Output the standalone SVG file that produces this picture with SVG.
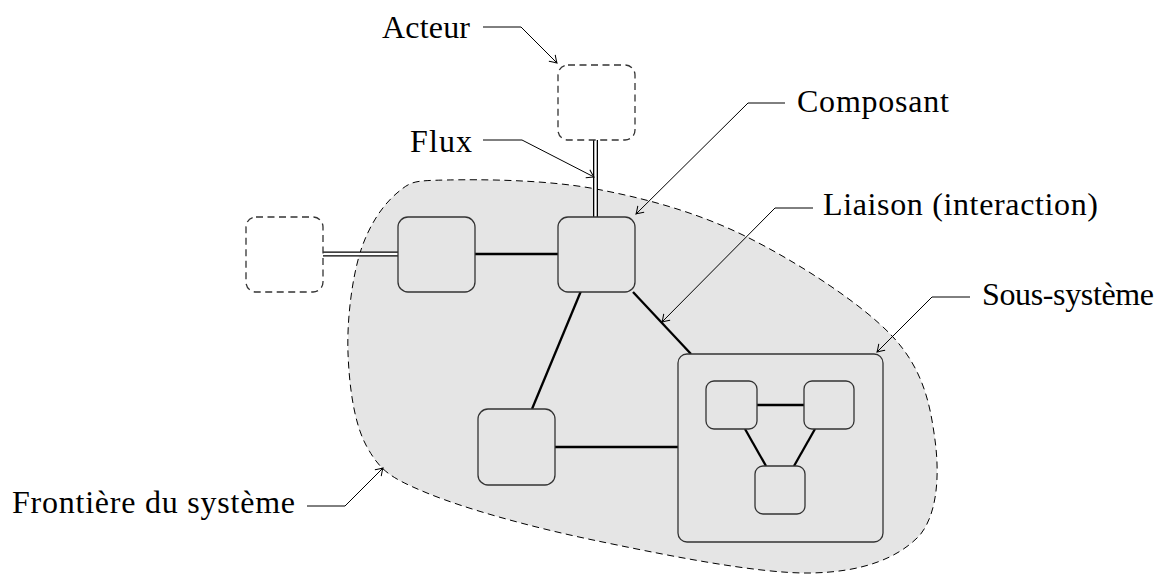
<svg xmlns="http://www.w3.org/2000/svg" width="1168" height="574" viewBox="0 0 1168 574">
<style>
.lbl{font-family:'Liberation Serif','Times New Roman',serif;font-size:32px;fill:#000}
.box{fill:#e5e5e5;stroke:#333;stroke-width:1.3}
.actor{fill:#fff;stroke:#333;stroke-width:1.3;stroke-dasharray:7 4.5}
.link{stroke:#000;stroke-width:2.3;fill:none}
.dbl-out{stroke:#000;stroke-width:5;fill:none}
.dbl-in{stroke:#fff;stroke-width:2.4;fill:none}
.ann{stroke:#000;stroke-width:1;fill:none;marker-end:url(#to)}
</style>
<defs>
<marker id="to" viewBox="-10 -6 12 12" markerWidth="12" markerHeight="12" refX="0" refY="0" orient="auto" markerUnits="userSpaceOnUse">
<path d="M-7,-4.5 Q-2,-1 0,0 Q-2,1 -7,4.5" fill="none" stroke="#000" stroke-width="1"/>
</marker>
</defs>
<rect width="1168" height="574" fill="#fff"/>
<g id="frontiere">
<path d="M447,180 C480.2,179.3 546,179.5 596,189 C646,198.5 697.5,212.3 747,237 C796.5,261.7 861.7,303.2 893,337 C924.3,370.8 930.5,407 935,440 C939.5,473 938,512.8 920,535 C899.2,557.2 864.5,572.2 810,573 C755.5,573.8 656.8,553.3 593,540 C529.2,526.7 464.7,508.5 427,493 C389.3,477.5 380.2,470.3 367,447 C353.8,423.7 349.2,385.3 348,353 C346.8,320.7 351.8,279.7 360,253 C368.2,226.3 382.5,205.2 397,193 C411.5,180.8 413.8,180.7 447,180 Z" fill="#e5e5e5" stroke="#000" stroke-width="1" stroke-dasharray="7 4.5"/>
</g>
<g id="connectors">
<line class="link" x1="475" y1="254" x2="558" y2="254"/>
<line class="link" x1="581" y1="291" x2="532" y2="409"/>
<line class="link" x1="633" y1="292" x2="691" y2="354"/>
<line class="link" x1="555" y1="447" x2="678" y2="447"/>
<path class="dbl-out" d="M595.5,140 V217"/>
<path class="dbl-in" d="M595.5,140 V217"/>
<path class="dbl-out" d="M323,254 H398"/>
<path class="dbl-in" d="M323,254 H398"/>
</g>
<g id="acteur-haut"><rect class="actor" x="558" y="65" width="77" height="75" rx="10"/></g>
<g id="acteur-gauche"><rect class="actor" x="246" y="217" width="77" height="75" rx="10"/></g>
<g id="composant-1"><rect class="box" x="398" y="217" width="77" height="75" rx="10"/></g>
<g id="composant-2"><rect class="box" x="558" y="217" width="77" height="75" rx="10"/></g>
<g id="composant-3"><rect class="box" x="478" y="409" width="77" height="76" rx="10"/></g>
<g id="sous-systeme">
<rect class="box" x="678" y="354" width="205" height="188" rx="9"/>
<line class="link" x1="757" y1="405" x2="804" y2="405"/>
<line class="link" x1="745" y1="429" x2="766" y2="466"/>
<line class="link" x1="815" y1="429" x2="794" y2="466"/>
<rect class="box" x="706" y="381" width="51" height="48" rx="8"/>
<rect class="box" x="804" y="381" width="50" height="48" rx="8"/>
<rect class="box" x="755" y="466" width="50" height="48" rx="8"/>
</g>
<g id="annotations">
<path class="ann" d="M483,27 H521 L557,63"/>
<path class="ann" d="M483,140 H522 L594,177"/>
<path class="ann" d="M785,103 H748 L636,214"/>
<path class="ann" d="M813,208 H775 L662,322"/>
<path class="ann" d="M970,297 H932 L877,352"/>
<path class="ann" d="M307,506 H345 L383,468"/>
</g>
<g id="labels">
<text class="lbl" x="382" y="38" textLength="88">Acteur</text>
<text class="lbl" x="410" y="152" textLength="62">Flux</text>
<text class="lbl" x="797" y="112" textLength="152">Composant</text>
<text class="lbl" x="823" y="215" textLength="275">Liaison (interaction)</text>
<text class="lbl" x="982" y="305" textLength="172">Sous-système</text>
<text class="lbl" x="12" y="513" textLength="283">Frontière du système</text>
</g>
</svg>
